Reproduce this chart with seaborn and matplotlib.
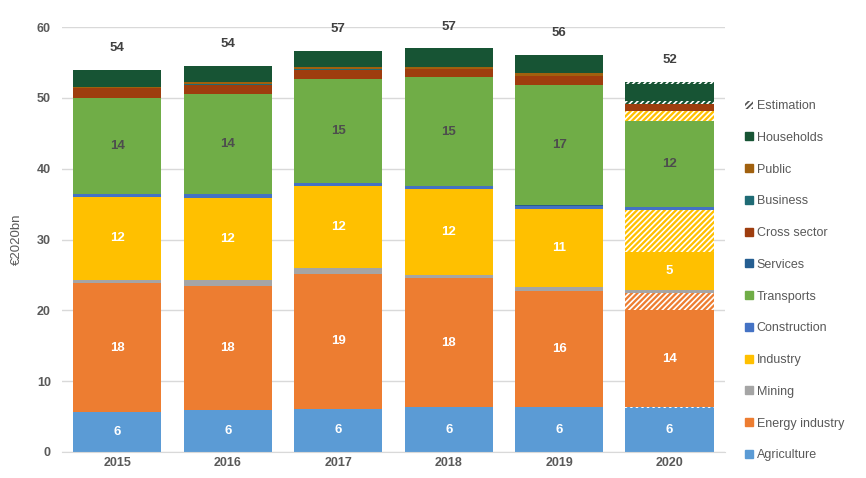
import numpy as np
import pandas as pd
import seaborn as sns
import matplotlib
matplotlib.use("Agg")
from matplotlib import pyplot as plt
from matplotlib.patches import Patch

years = ["2015", "2016", "2017", "2018", "2019", "2020"]

# sector values, €2020bn
agriculture = [5.7, 5.9, 6.1, 6.3, 6.3, 6.2]
agriculture_est = [0, 0, 0, 0, 0, 0.1]
energy = [18.1, 17.6, 19.1, 18.2, 16.4, 13.8]
energy_est = [0, 0, 0, 0, 0, 2.4]
mining = [0.5, 0.75, 0.75, 0.5, 0.55, 0.33]
industry = [11.7, 11.6, 11.6, 12.1, 11.1, 5.4]
industry_est = [0, 0, 0, 0, 0, 6.0]
construction = [0.4, 0.55, 0.4, 0.4, 0.45, 0.33]
services = [0.05, 0.05, 0.05, 0.05, 0.05, 0.05]
transports = [13.6, 14.1, 14.6, 15.4, 16.9, 12.1]
band_est = [0, 0, 0, 0, 0, 1.4]
cross_sector = [1.3, 1.3, 1.4, 1.1, 1.3, 1.0]
cross_est = [0, 0, 0, 0, 0, 0.45]
business = [0.05, 0.05, 0.05, 0.05, 0.05, 0.05]
public = [0.1, 0.4, 0.3, 0.3, 0.35, 0.0]
households = [2.5, 2.2, 2.3, 2.6, 2.6, 2.3]
households_est = [0, 0, 0, 0, 0, 0.4]

c_agri = "#5B9BD5"
c_energy = "#ED7D31"
c_mining = "#A5A5A5"
c_industry = "#FFC000"
c_constr = "#4472C4"
c_transp = "#70AD47"
c_services = "#255E91"
c_cross = "#9E3D0E"
c_business = "#1F6B75"
c_public = "#A0600E"
c_house = "#175434"

# stacking order: (values, color, hatched, label colour or None)
layers = [
    (agriculture, c_agri, False, "white"),
    (agriculture_est, c_agri, True, None),
    (energy, c_energy, False, "white"),
    (energy_est, c_energy, True, None),
    (mining, c_mining, False, None),
    (industry, c_industry, False, "white"),
    (industry_est, c_industry, True, None),
    (construction, c_constr, False, None),
    (services, c_services, False, None),
    (transports, c_transp, False, "#4D4D4D"),
    (band_est, c_industry, True, None),
    (cross_sector, c_cross, False, None),
    (cross_est, c_house, True, None),
    (business, c_business, False, None),
    (public, c_public, False, None),
    (households, c_house, False, None),
    (households_est, c_house, True, None),
]

plt.rcParams["font.family"] = ["Liberation Sans", "DejaVu Sans"]
plt.rcParams["hatch.linewidth"] = 1.2

fig = plt.figure(figsize=(8.66, 4.78), dpi=100)
ax = fig.add_axes([0.0716, 0.0544, 0.7655, 0.889])

cum = np.zeros(len(years))
for vals, col, hatched, lab_col in layers:
    vals = np.array(vals, dtype=float)
    if hatched:
        sns.barplot(x=years, y=vals, bottom=cum, color=col, saturation=1,
                    width=0.8, hatch="//////", edgecolor="white", linewidth=0, ax=ax)
    else:
        sns.barplot(x=years, y=vals, bottom=cum, color=col, saturation=1,
                    width=0.8, linewidth=0, ax=ax)
    if lab_col is not None:
        for i, v in enumerate(vals):
            if v > 3:
                ax.text(i, cum[i] + v / 2, f"{v:.0f}", ha="center", va="center",
                        fontsize=9.5, fontweight="bold", color=lab_col)
    cum += vals

for i, tot in enumerate(cum):
    ax.text(i, tot + 2.2, f"{tot:.0f}", ha="center", va="bottom",
            fontsize=9.5, fontweight="bold", color="#404040")

ax.set_ylim(0, 60)
ax.set_xlim(-0.5, 5.5)
ax.set_yticks(range(0, 61, 10))
ax.yaxis.grid(True, color="#D9D9D9", linewidth=1)
ax.set_axisbelow(True)
for s in ["top", "right", "left"]:
    ax.spines[s].set_visible(False)
ax.spines["bottom"].set_color("#D9D9D9")
ax.tick_params(axis="both", length=0, labelsize=9, labelcolor="#595959")
ax.tick_params(axis="y", pad=8)
for t in ax.get_xticklabels() + ax.get_yticklabels():
    t.set_fontweight("bold")
ax.set_xlabel("")
ax.set_ylabel("€2020bn", fontsize=9.5, color="#595959", labelpad=10)

handles = [
    Patch(facecolor="white", edgecolor="#555555", hatch="//////", linewidth=0, label="Estimation"),
    Patch(color=c_house, label="Households"),
    Patch(color=c_public, label="Public"),
    Patch(color=c_business, label="Business"),
    Patch(color=c_cross, label="Cross sector"),
    Patch(color=c_services, label="Services"),
    Patch(color=c_transp, label="Transports"),
    Patch(color=c_constr, label="Construction"),
    Patch(color=c_industry, label="Industry"),
    Patch(color=c_mining, label="Mining"),
    Patch(color=c_energy, label="Energy industry"),
    Patch(color=c_agri, label="Agriculture"),
]
fig.legend(handles=handles, loc="upper left", bbox_to_anchor=(0.855, 0.801),
           frameon=False, fontsize=9, labelcolor="#595959",
           handlelength=0.6, handleheight=0.6, handletextpad=0.3,
           labelspacing=1.58, borderaxespad=0)

fig.savefig("out.png", dpi=100)
